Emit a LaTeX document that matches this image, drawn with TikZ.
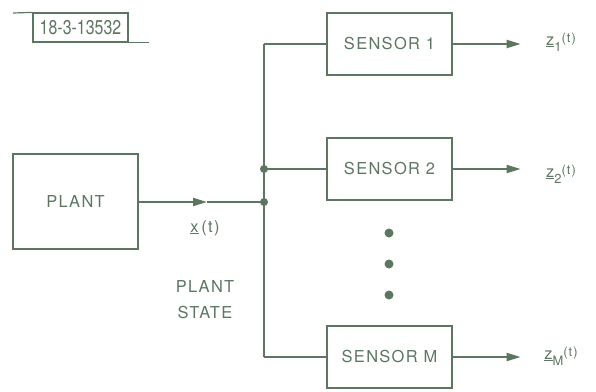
\documentclass[tikz,border=0pt]{standalone}
\usepackage{fontspec}
\setmainfont[LetterSpace=8]{TeX Gyre Heros}
\newfontfamily\tagfont[FakeStretch=0.8]{TeX Gyre Heros}
\usepackage{tikz}
\usetikzlibrary{arrows.meta,positioning}
\definecolor{inkG}{RGB}{92,118,98}
\newcommand{\subsz}{\fontsize{13}{14}\selectfont}
\newcommand{\outsig}[1]{\underline{z}\raisebox{-6pt}{\subsz #1}\raisebox{3pt}{\subsz(t)}}

\begin{document}
\begin{tikzpicture}[x=1bp,y=1bp, every node/.style={font=\fontsize{16.5}{18}\selectfont, text=inkG},
    blockbox/.style={draw=inkG, line width=1.3pt, minimum width=125bp, inner sep=0pt},
    sigline/.style={draw=inkG, line width=2pt},
    sigarrow/.style={sigline, -{Triangle[length=14bp,width=8bp]}}]
  \useasboundingbox (0,0) rectangle (596,391);

  % drawing number tag
  \node[draw=inkG, line width=1.2pt, minimum width=95bp, minimum height=29bp, inner sep=0pt,
        font={\fontsize{20}{22}\tagfont}] (tag) at (80.5,363.5) {18-3-13532};
  \draw[inkG, line width=1.2pt] (13,378) -- (tag.north west);
  \draw[inkG, line width=1.2pt] (tag.south east) -- ++(20,0);

  % plant and the state bus
  \node[blockbox, minimum height=95bp] (plant) at (75.5,189.5) {PLANT};
  \coordinate (jPlant) at (264,189);
  \coordinate (xMid) at (207,189);
  \draw[sigarrow] (plant.east |- xMid) -- (xMid);
  \draw[sigline] (xMid) -- (jPlant);
  \node (xLab) at (205,163) {\underline{x}\,(t)};
  \node[align=center, font=\fontsize{16.5}{26}\selectfont] (stateLab) at (205,91) {PLANT\\STATE};

  % sensors
  \foreach \name/\yy/\lab in {sens1/347/{SENSOR 1}, sens2/222/{SENSOR 2}, sensM/34/{SENSOR M}} {
    \node[blockbox, minimum height=62bp] (\name) at (389.5,\yy) {\lab};
    \draw[sigline] (jPlant |- \name.west) -- (\name.west);
    \draw[sigarrow] (\name.east) -- ++(68,0);
  }
  \draw[sigline] (jPlant |- sens1.west) -- (jPlant |- sensM.west);
  \fill[inkG] (jPlant) circle (4bp) (jPlant |- sens2.west) circle (4bp);

  % outputs
  \node (z1) at (561,349) {\outsig{1}};
  \node (z2) at (561,217) {\outsig{2}};
  \node (zM) at (561,35) {\outsig{M}};

  % ellipsis dots
  \foreach \yy in {158,127,96}
    \fill[inkG] (389,\yy) circle (4.5bp);
\end{tikzpicture}
\end{document}
